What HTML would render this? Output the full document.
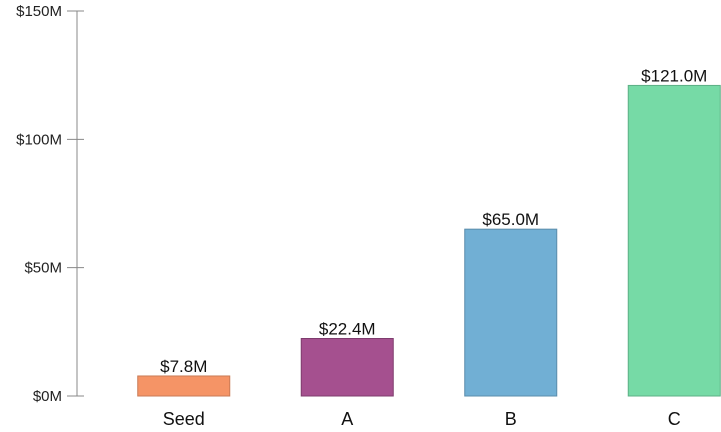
<!DOCTYPE html>
<html><head><meta charset="utf-8"><style>
body{margin:0;background:#fff}
svg{display:block;font-family:"Liberation Sans",sans-serif}
</style></head><body>
<svg id="chart" width="721" height="432"></svg>
<script>
const categories = ["Seed","A","B","C"];
const values = [7.8,22.4,65.0,121.0];
const valueLabels = ["$7.8M","$22.4M","$65.0M","$121.0M"];
const tickValues = [0,50,100,150];
const tickLabels = ["$0M","$50M","$100M","$150M"];
const colors = ["#f59466","#a5508f","#71afd4","#76daa6"];
const strokes = ["#c97a55","#7e3c6d","#5a8cab","#5db086"];

const NS="http://www.w3.org/2000/svg";
const svg=document.getElementById('chart');
const y0=396, yTop=11, maxV=150;
const y=v=>y0-(v/maxV)*(y0-yTop);
const bandStart=102, band=163.5, barW=92;
const xc=i=>bandStart+band*i+band/2;
function mk(t,a){const e=document.createElementNS(NS,t);for(const k in a)e.setAttribute(k,a[k]);svg.appendChild(e);return e;}

const axis=mk('line',{x1:77,y1:y(0),x2:77,y2:y(150),stroke:'#888','stroke-width':1});


tickValues.forEach((v,i)=>{
  const t=mk('line',{x1:67,x2:84,y1:y(v),y2:y(v),stroke:'#888','stroke-width':1});
  
  
  const l=mk('text',{x:62,y:y(v)+5,'text-anchor':'end','font-size':15,fill:'#222'});
  l.textContent=tickLabels[i];
  
  
});
categories.forEach((c,i)=>{
  const cx=xc(i);
  const r=mk('rect',{x:cx-barW/2,y:y(values[i]),width:barW,height:y0-y(values[i]),fill:colors[i],stroke:strokes[i],'stroke-width':1});
  
  
  const vl=mk('text',{x:cx,y:y(values[i])-4,'text-anchor':'middle','font-size':17,fill:'#111'});
  vl.textContent=valueLabels[i];
  
  
  const xl=mk('text',{x:cx,y:425,'text-anchor':'middle','font-size':18,fill:'#111'});
  xl.textContent=c;
  
  
});
</script>
</body></html>
